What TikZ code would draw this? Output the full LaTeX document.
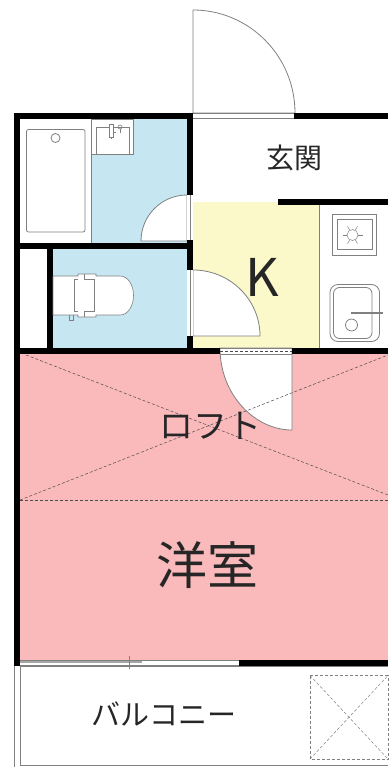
\documentclass[tikz,border=0pt]{standalone}
\usepackage{fontspec}
\setmainfont{Noto Sans CJK JP}
\definecolor{bathblue}{HTML}{C6E6F2}
\definecolor{kitchenyellow}{HTML}{FBF8C9}
\definecolor{roompink}{HTML}{FAB9BA}
\definecolor{linegray}{HTML}{808080}
\tikzset{
  wall/.style={fill=black,draw=none},
  fixture/.style={draw=linegray,line width=0.8pt},
  swing/.style={draw=linegray,fill=white,line width=0.8pt},
  dashline/.style={draw=black!70,line width=0.5pt,densely dashed},
  roomlabel/.style={inner sep=0pt,text=black!85},
}
\newcommand{\fsz}[1]{\fontsize{#1}{#1}\selectfont}
\begin{document}
\begin{tikzpicture}[x=1pt,y=-1pt]
\useasboundingbox (0,0) rectangle (388,767);
% room colours
\fill[bathblue] (91,119) rectangle (187,243);
\fill[bathblue] (53,249) rectangle (187,348);
\fill[kitchenyellow] (193,202) rectangle (319,348);
\fill[roompink] (20,354) rectangle (388,660);

% doors
\draw[swing] (193,113) -- (193,10) arc (270:360:102 and 103) -- cycle;
\draw[swing] (187,241) -- (187,195) arc (270:180:46) -- cycle;
\draw[swing] (193,336) -- (193,270) arc (270:360:67 and 66) -- cycle;
\draw[swing] (292,348) -- (292,430) .. controls (255,430) and (220,395) .. (220,348) -- cycle;
\fill[white] (187,195) rectangle (193,240);
\fill[white] (187,270) rectangle (193,336);
\draw[fixture] (190,195) -- (190,240) (190,270) -- (190,336);
\draw[fixture] (193,113.5) -- (294,113.5) (193,118.5) -- (294,118.5);
\draw[fixture,line width=0.5pt] (220,348) -- (292,348);
\draw[dashline,line width=0.4pt] (220,351) -- (292,351);
\draw[fixture,line width=1pt] (220,354) -- (292,354);

% walls
\fill[wall] (14,113) rectangle (193,119);
\fill[wall] (294,113) rectangle (388,119);
\fill[wall] (14,113) rectangle (20,666);
\fill[wall] (187,113) rectangle (193,195);
\fill[wall] (187,240) rectangle (193,270);
\fill[wall] (187,336) rectangle (193,354);
\fill[wall] (14,243) rectangle (193,249);
\fill[wall] (47,249) rectangle (53,348);
\fill[wall] (14,348) rectangle (220,354);
\fill[wall] (292,348) rectangle (388,354);
\fill[wall] (278,199) rectangle (388,205);
\fill[wall] (239,660) rectangle (388,666);
\draw[fixture] (319,205) -- (319,348);

% bath and basin
\draw[fixture] (91,119) -- (91,243);
\draw[fixture,rounded corners=2pt] (26.5,129.5) rectangle (85,232);
\draw[fixture] (55.5,138) circle (4.5);
\filldraw[fixture,fill=white] (91.5,119) rectangle (133.5,154);
\draw[fixture,line width=0.6pt] (96,154) -- (96,127.5) -- (129,127.5) -- (129,154);
\filldraw[fixture,fill=white,line width=0.6pt] (109,124) rectangle (113,137);
\draw[fixture,line width=0.6pt] (120,127) circle (2);
\draw[fixture,line width=0.6pt] (120,129) -- (120,133);
\draw[fixture,line width=0.6pt] (113,132) -- (116,132) (111,137) -- (111,139);

% toilet
\filldraw[fixture,fill=white,line width=0.6pt] (53,276) -- (78,276) -- (78,274) -- (96,274) -- (96,276) -- (120,276)
  .. controls (128,276) and (133.5,285) .. (133.5,295.5) .. controls (133.5,306) and (128,315) .. (120,315)
  -- (96,315) -- (96,317) -- (78,317) -- (78,315) -- (53,315) -- cycle;
\draw[fixture,line width=0.6pt] (74,279) -- (78,279) (74,279) -- (74,311) -- (78,311) (84,274) -- (84,279) -- (94,279) -- (94,311) -- (84,311) -- (84,317);
\draw[fixture,line width=0.6pt] (69,315) -- (69,320) -- (73,320) -- (73,315);

% stove and sink
\draw[fixture] (332.5,214.5) rectangle (376,255.5);
\draw[fixture] (337,219) rectangle (372,249.5);
\draw[fixture,line width=0.5pt] (352.5,235) circle (5.5);
\foreach \ang in {0,60,120,180,240,300}
  \draw[fixture,line width=0.5pt] (352.5,235)+(\ang:5.5) -- +(\ang:10);
\draw[fixture,rounded corners=8pt] (330,284.5) rectangle (379.5,341.5);
\draw[fixture,rounded corners=6pt] (333.5,287.5) rectangle (372,338.5);
\draw[fixture,line width=1.2pt] (351,313) -- (383,313);
\draw[fixture] (351.5,325) circle (6);

% loft lines
\draw[dashline] (26,355) -- (388,495);
\draw[dashline] (20,500) -- (388,355);
\draw[dashline] (20,500) -- (388,500);

% balcony
\draw[fixture] (14,666) -- (14,767);
\draw[fixture] (20,666) -- (20,765) -- (388,765);
\draw[fixture] (20,666.5) -- (388,666.5);
\fill[white] (20,660) rectangle (239,666);
\draw[fixture,line width=0.5pt] (20,660.5) -- (239,660.5);
\draw[fixture,line width=1.5pt,draw=black!35] (20,662) -- (142,662);
\draw[fixture] (20,665.5) -- (239,665.5);
\draw[fixture] (129,656) -- (129,669);
\draw[dashline,draw=linegray] (310,675.5) rectangle (388,759);
\draw[dashline,draw=linegray] (310,675.5) -- (388,759);
\draw[dashline,draw=linegray] (310,759) -- (388,675.5);

% labels
\node[roomlabel] (entrance) at (294,158) {\fsz{28}玄関};
\node[roomlabel] (kitchen) at (262,277) {\fsz{52}K};
\node[roomlabel] (loft) at (210,426) {\fsz{34}ロフト};
\node[roomlabel] (western) at (207,565) {\fsz{51}洋室};
\node[roomlabel] (balcony) at (164,714) {\fsz{29}バルコニー};
\end{tikzpicture}
\end{document}
